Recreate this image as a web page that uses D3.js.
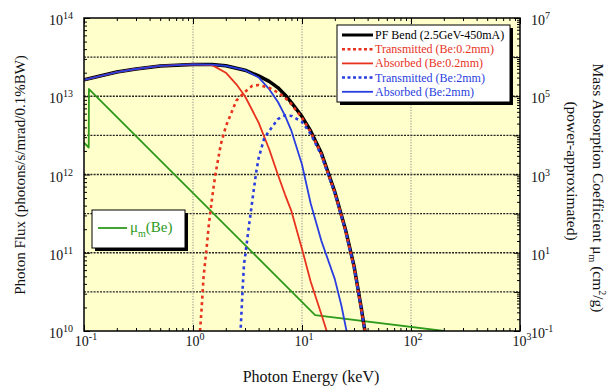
<!DOCTYPE html>
<html><head><meta charset="utf-8">
<script src="https://cdn.jsdelivr.net/npm/d3@7"></script>
<style>
html,body{margin:0;padding:0;background:#fff;}
svg{display:block;font-family:"Liberation Serif","Times New Roman",serif;}
</style></head>
<body><svg id="c" width="607" height="390"></svg>
<script>
// ---- data ----
const energyBend = [0.1,0.2,0.3,0.5,1,1.5,2,3,4,5,6,7,8,10,12,15,20,25,30,35,38];
const fluxBend   = [1.62e13,2.04e13,2.23e13,2.44e13,2.55e13,2.54e13,2.45e13,2.15e13,1.82e13,1.55e13,1.29e13,1.04e13,8.3e12,5.5e12,3.6e12,1.9e12,6.0e11,2.0e11,6.8e10,1.95e10,9.5e9];

const energyTrans02 = [1.16,1.2,1.25,1.3,1.35,1.4,1.5,1.6,1.8,2,2.5,3,3.5,4,5,6,7,8,10,12,15,20,25,30,35,38];
const fluxTrans02   = [1.0e10,1.95e10,4.9e10,8.3e10,1.38e11,2.35e11,5.1e11,9.8e11,2.43e12,4.1e12,8.8e12,1.14e13,1.36e13,1.39e13,1.28e13,1.12e13,9.6e12,7.9e12,5.3e12,3.5e12,1.85e12,5.9e11,1.95e11,6.6e10,1.9e10,9.4e9];

const energyAbs02 = [0.1,0.2,0.3,0.5,1,1.5,2,2.5,3,4,5,6,7,8,10,12,15,17];
const fluxAbs02   = [1.62e13,2.04e13,2.23e13,2.44e13,2.55e13,2.5e13,2.0e13,1.42e13,1.0e13,4.6e12,2.1e12,1.0e12,5.5e11,3.4e11,1.12e11,4.3e10,1.66e10,9.6e9];

const energyTrans2 = [2.74,2.8,2.86,2.94,3,3.2,3.4,3.6,3.8,4,4.5,5,6,7,8,10,12,15,20,25,30,35,38];
const fluxTrans2   = [1.1e10,2.0e10,3.7e10,7.3e10,8.7e10,1.8e11,3.4e11,6.2e11,1.07e12,1.62e12,2.9e12,3.6e12,5.1e12,5.7e12,5.6e12,4.7e12,3.3e12,1.78e12,5.8e11,1.95e11,6.6e10,1.9e10,9.4e9];

const energyAbs2 = [0.1,0.2,0.3,0.5,1,1.5,2,3,4,5,6,7,8,10,12,15,20,23,25.7];
const fluxAbs2   = [1.62e13,2.04e13,2.23e13,2.44e13,2.55e13,2.54e13,2.45e13,2.15e13,1.74e13,1.23e13,8.5e12,5.6e12,3.6e12,1.34e12,4.3e11,1.44e11,4.6e10,2.1e10,9.8e9];

const energyMu = [0.1,0.1105,0.111,13.2,200];
const muBe     = [6.5e3,4.9e3,1.53e5,0.256,0.1];

const leftTicks  = [1e10,1e11,1e12,1e13,1e14];
const leftLabels = ["10","11","12","13","14"];
const rightTicks = [1e-1,1e1,1e3,1e5,1e7];
const rightLabels= ["-1","1","3","5","7"];
const bottomTicks = [0.1,1,10,100,1000];
const bottomLabels= ["-1","0","1","2","3"];

const legendNames = ["PF Bend (2.5GeV-450mA)","Transmitted (Be:0.2mm)","Absorbed (Be:0.2mm)","Transmitted (Be:2mm)","Absorbed (Be:2mm)"];

// ---- setup ----
const svg = d3.select("#c");
const L=84,R=520,T=18,B=331;
const x  = d3.scaleLog().domain([0.1,1000]).range([L,R]);
const yL = d3.scaleLog().domain([1e10,1e14]).range([B,T]);
const yR = d3.scaleLog().domain([0.1,1e7]).range([B,T]);

const BLACK="#000", RED="#e8321e", BLUE="#2a3ee0", GREEN="#2e9a1c";

svg.append("rect").attr("x",L).attr("y",T).attr("width",R-L).attr("height",B-T).attr("fill","#ffffcc");

const clip = svg.append("defs").append("clipPath").attr("id","pc");
clip.append("rect").attr("x",L).attr("y",T).attr("width",R-L).attr("height",B-T);

// gridlines
const hGrid=[];for(let k=0;k<=6;k++)hGrid.push(Math.pow(10,k));
svg.append("g").selectAll("line").data(hGrid).join("line")
  .attr("x1",L).attr("x2",R).attr("y1",d=>yR(d)).attr("y2",d=>yR(d))
  .attr("stroke","#222").attr("stroke-width",1.3).attr("stroke-dasharray","2,1.2");
svg.append("g").selectAll("line").data([1,10,100]).join("line")
  .attr("y1",T).attr("y2",B).attr("x1",d=>x(d)).attr("x2",d=>x(d))
  .attr("stroke","#888").attr("stroke-width",1).attr("stroke-dasharray","1.2,1.5");

// minor tick values
function minors(lo,hi){const a=[];for(let k=lo;k<hi;k++)for(let m=2;m<=9;m++)a.push(m*Math.pow(10,k));return a;}
function styleAxis(g){g.select(".domain").remove();g.selectAll(".tick line").attr("stroke","#000");g.selectAll("text").remove();}

svg.append("g").attr("transform",`translate(${L},0)`).call(d3.axisLeft(yL).tickValues(leftTicks).tickSize(-6)).call(styleAxis);
svg.append("g").attr("transform",`translate(${L},0)`).call(d3.axisLeft(yL).tickValues(minors(10,14)).tickSize(-3)).call(styleAxis);
svg.append("g").attr("transform",`translate(${R},0)`).call(d3.axisRight(yR).tickValues(d3.range(-1,8).map(k=>Math.pow(10,k))).tickSize(-6)).call(styleAxis);
svg.append("g").attr("transform",`translate(${R},0)`).call(d3.axisRight(yR).tickValues(minors(-1,7)).tickSize(-3)).call(styleAxis);
svg.append("g").attr("transform",`translate(0,${B})`).call(d3.axisBottom(x).tickValues(bottomTicks).tickSize(-6)).call(styleAxis);
svg.append("g").attr("transform",`translate(0,${B})`).call(d3.axisBottom(x).tickValues(minors(-1,3)).tickSize(-3)).call(styleAxis);
svg.append("g").attr("transform",`translate(0,${T})`).call(d3.axisTop(x).tickValues(bottomTicks).tickSize(-6)).call(styleAxis);
svg.append("g").attr("transform",`translate(0,${T})`).call(d3.axisTop(x).tickValues(minors(-1,3)).tickSize(-3)).call(styleAxis);

// curves
const plot = svg.append("g").attr("clip-path","url(#pc)");
function series(E,V,ys){return E.map((e,i)=>[x(e),ys(V[i])]);}
const line = d3.line();
function draw(E,V,ys,color,w,dash){
  const p = plot.append("path").attr("d",line(series(E,V,ys))).attr("fill","none")
    .attr("stroke",color).attr("stroke-width",w).attr("stroke-linejoin","round");
  if(dash)p.attr("stroke-dasharray",dash);
}
draw(energyMu,muBe,yR,GREEN,1.8);
draw(energyBend,fluxBend,yL,BLACK,3.5);
draw(energyAbs02,fluxAbs02,yL,RED,1.8);
draw(energyAbs2,fluxAbs2,yL,BLUE,1.8);
draw(energyTrans02,fluxTrans02,yL,RED,2.6,"3,3.5");
draw(energyTrans2,fluxTrans2,yL,BLUE,2.6,"3,3.5");

// frame
svg.append("rect").attr("x",L).attr("y",T).attr("width",R-L).attr("height",B-T).attr("fill","none").attr("stroke","#000").attr("stroke-width",1.5);

// tick labels
function powLabel(g,xp,yp,exp,anchor){
  const t=g.append("text").attr("x",xp).attr("y",yp).attr("text-anchor",anchor).attr("font-size",14).attr("fill","#111");
  t.append("tspan").text("10");
  t.append("tspan").attr("font-size",10).attr("dy",-6).text(exp);
}
const lab=svg.append("g");
leftTicks.forEach((v,i)=>powLabel(lab,73,yL(v)+7,leftLabels[i],"end"));
rightTicks.forEach((v,i)=>powLabel(lab,531,yR(v)+7,rightLabels[i],"start"));
bottomTicks.forEach((v,i)=>powLabel(lab,x(v)+2,346,bottomLabels[i],"middle"));

// axis titles
svg.append("text").attr("transform","translate(25,175) rotate(-90)").attr("text-anchor","middle")
  .attr("font-size",15).attr("fill","#111").text("Photon Flux (photons/s/mrad/0.1%BW)");
svg.append("text").attr("x",311).attr("y",382).attr("text-anchor","middle")
  .attr("font-size",16).attr("fill","#111").text("Photon Energy (keV)");
const rt=svg.append("text").attr("transform","translate(593,188) rotate(90)").attr("text-anchor","middle")
  .attr("font-size",15.5).attr("fill","#111");
rt.append("tspan").text("Mass Absorption Coefficient  \u03bc");
rt.append("tspan").attr("font-size",10).attr("dy",4).text("m");
rt.append("tspan").attr("dy",-4).text(" (cm");
rt.append("tspan").attr("font-size",10).attr("dy",-6).text("2");
rt.append("tspan").attr("dy",6).text("/g)");
svg.append("text").attr("transform","translate(567,171) rotate(90)").attr("text-anchor","middle")
  .attr("font-size",15.5).attr("fill","#111").text("(power-approximated)");

// legend
const lg=svg.append("g");
lg.append("rect").attr("x",340).attr("y",28).attr("width",173).attr("height",77).attr("fill","#000");
lg.append("rect").attr("x",337).attr("y",25).attr("width",173).attr("height",77).attr("fill","#fff").attr("stroke","#000").attr("stroke-width",1);
const legColors=[BLACK,RED,RED,BLUE,BLUE];
const legDash=[null,"3,2.5",null,"3,2.5",null];
const legW=[3,2.5,1.8,2.5,1.8];
legendNames.forEach((n,i)=>{
  const yy=35+i*14.2;
  const l=lg.append("line").attr("x1",342).attr("x2",373).attr("y1",yy).attr("y2",yy)
    .attr("stroke",legColors[i]).attr("stroke-width",legW[i]);
  if(legDash[i])l.attr("stroke-dasharray",legDash[i]);
  lg.append("text").attr("x",375).attr("y",yy+4).attr("font-size",12)
    .attr("fill",i===0?"#000":legColors[i]).text(n);
});

// mu legend
const mg=svg.append("g");
mg.append("rect").attr("x",95).attr("y",213).attr("width",93).attr("height",38).attr("fill","#000");
mg.append("rect").attr("x",92).attr("y",210).attr("width",93).attr("height",38).attr("fill","#fff").attr("stroke","#000").attr("stroke-width",1);
mg.append("line").attr("x1",98).attr("x2",127).attr("y1",228).attr("y2",228).attr("stroke",GREEN).attr("stroke-width",1.8);
const mt=mg.append("text").attr("x",130).attr("y",232).attr("font-size",15).attr("fill",GREEN);
mt.append("tspan").text("\u03bc");
mt.append("tspan").attr("font-size",10).attr("dy",5).text("m");
mt.append("tspan").attr("dy",-5).text("(Be)");
</script></body></html>
